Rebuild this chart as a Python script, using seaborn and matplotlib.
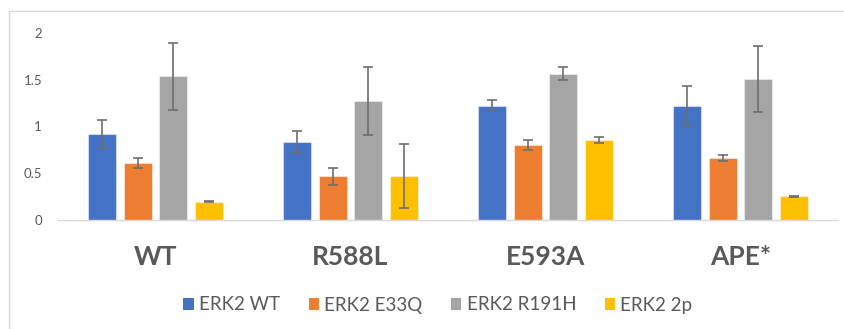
import matplotlib
matplotlib.use("Agg")
import matplotlib.pyplot as plt
from matplotlib.lines import Line2D
from matplotlib.patches import Patch
import seaborn as sns
import pandas as pd
import numpy as np

categories = ["WT", "R588L", "E593A", "APE*"]
series = ["ERK2 WT", "ERK2 E33Q", "ERK2 R191H", "ERK2 2p"]
colors = ["#4472C4", "#ED7D31", "#A5A5A5", "#FFC000"]

erk2_wt = [0.92, 0.83, 1.22, 1.22]
erk2_wt_err = [0.146, 0.118, 0.06, 0.21]
erk2_e33q = [0.606, 0.467, 0.802, 0.66]
erk2_e33q_err = [0.053, 0.09, 0.052, 0.03]
erk2_r191h = [1.533, 1.27, 1.561, 1.505]
erk2_r191h_err = [0.357, 0.36, 0.07, 0.35]
erk2_2p = [0.196, 0.467, 0.852, 0.253]
erk2_2p_err = [0.005, 0.34, 0.032, 0.005]

yticks = [0, 0.5, 1, 1.5, 2]
ytick_labels = ["0", "0.5", "1", "1.5", "2"]

vals = [erk2_wt, erk2_e33q, erk2_r191h, erk2_2p]
errs = [erk2_wt_err, erk2_e33q_err, erk2_r191h_err, erk2_2p_err]
rows = []
for s, v, e in zip(series, vals, errs):
    for c, vv, ee in zip(categories, v, e):
        rows.append({"category": c, "series": s, "value": vv, "err": ee})
df = pd.DataFrame(rows)

sns.set_style("white")
plt.rcParams["font.family"] = ["Lato", "DejaVu Sans"]

W, H = 845, 329
fig = plt.figure(figsize=(W / 100, H / 100), dpi=100)
x0, x1 = 58, 838
ytop, ybot = 32.7, 220
ax = fig.add_axes([x0 / W, (H - ybot) / H, (x1 - x0) / W, (ybot - ytop) / H])

sns.barplot(data=df, x="category", y="value", hue="series", order=categories,
            hue_order=series, palette=colors, width=0.73, gap=0.21,
            errorbar=None, ax=ax, legend=False,
            edgecolor=(1, 1, 1, 0.45), linewidth=0.8, saturation=1)

for cont, s in zip(ax.containers, series):
    sub = df[df["series"] == s].set_index("category").loc[categories]
    xs = [b.get_x() + b.get_width() / 2 for b in cont]
    ax.errorbar(xs, sub["value"].values, yerr=sub["err"].values, fmt="none",
                ecolor="#6E6E6E", elinewidth=1.2, capsize=3.8, capthick=1.2,
                zorder=5)

ax.set_ylim(0, 2)
ax.set_xlim(-0.5, len(categories) - 0.5)
ax.set_yticks(yticks)
ax.set_yticklabels(ytick_labels)
ax.set_xlabel("")
ax.set_ylabel("")
for sp in ["top", "right", "left"]:
    ax.spines[sp].set_visible(False)
ax.spines["bottom"].set_color("#D9D9D9")
ax.spines["bottom"].set_linewidth(1.0)
ax.tick_params(axis="y", length=0, pad=11.5, labelsize=9.5, labelcolor="#595959")
ax.tick_params(axis="x", length=0, pad=18, labelsize=19, labelcolor="#595959")
for t in ax.get_xticklabels():
    t.set_fontweight("bold")
ax.grid(False)

# outer chart frame (top and left visible)
fig.add_artist(Line2D([9.5 / W, 1], [1 - 11 / H, 1 - 11 / H], color="#D9D9D9", lw=1,
                      transform=fig.transFigure))
fig.add_artist(Line2D([9.5 / W, 9.5 / W], [0, 1 - 11 / H], color="#D9D9D9", lw=1,
                      transform=fig.transFigure))

handles = [Patch(facecolor=c, edgecolor="none") for c in colors]
fig.legend(handles, series, loc="center", bbox_to_anchor=(438 / W, 1 - 305 / H),
           ncol=4, frameon=False, fontsize=13.5, labelcolor="#595959",
           handlelength=0.55, handleheight=0.55, handletextpad=0.3,
           columnspacing=1.5)

fig.savefig("out.png", dpi=100)
